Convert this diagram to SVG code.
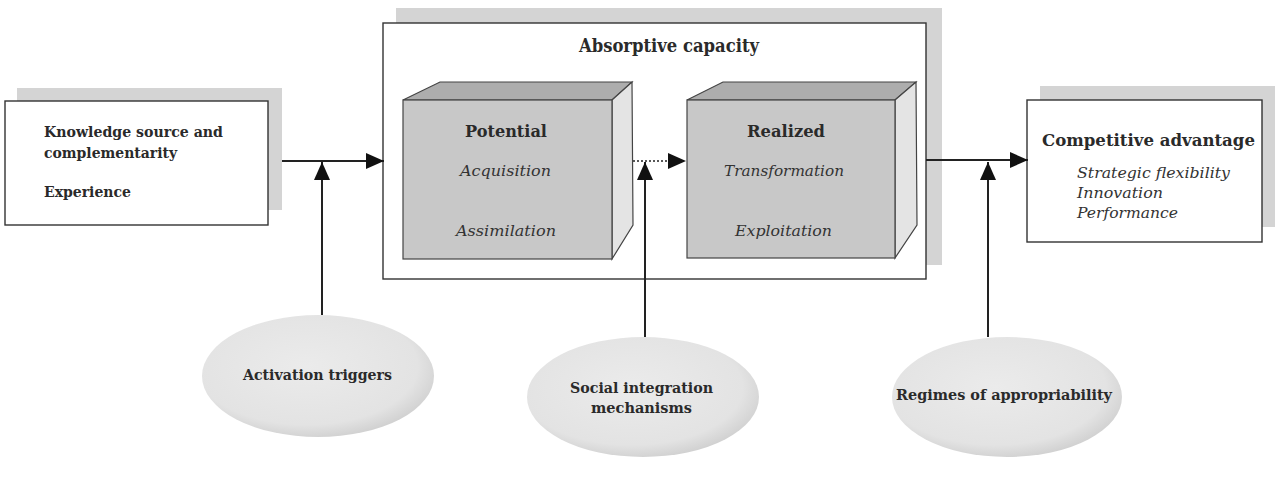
<svg xmlns="http://www.w3.org/2000/svg" width="1285" height="484" viewBox="0 0 1285 484">
<defs>
<style>
.shadow{fill:#d4d4d4;}
.box{fill:#ffffff;stroke:#333;stroke-width:1.4;}
.front{fill:#c8c8c8;stroke:#444;stroke-width:1.2;}
.top{fill:#adadad;stroke:#444;stroke-width:1.2;}
.side{fill:#e4e4e4;stroke:#444;stroke-width:1.2;}
.ell{fill:url(#eg);stroke:none;}
.lbl{font-family:"DejaVu Serif","Liberation Serif",serif;font-weight:bold;fill:#2a2a2a;}
.it{font-family:"DejaVu Serif","Liberation Serif",serif;font-style:italic;fill:#333;}
.conn{stroke:#222;stroke-width:2;fill:none;}
.dot{stroke:#222;stroke-width:1.6;fill:none;stroke-dasharray:2 2;}
</style>
<radialGradient id="eg" cx="0.45" cy="0.42" r="0.6">
<stop offset="0" stop-color="#ebebeb"/>
<stop offset="0.8" stop-color="#e3e3e3"/>
<stop offset="1" stop-color="#d0d0d0"/>
</radialGradient>
<marker id="arr" markerUnits="userSpaceOnUse" markerWidth="18" markerHeight="16" refX="18" refY="8" orient="auto">
<path d="M0,0 L18,8 L0,16 z" fill="#111"/>
</marker>
</defs>

<g id="knowledge">
<rect class="shadow" x="17" y="88" width="265" height="122"/>
<rect class="box" x="5" y="101" width="263" height="124"/>
<text class="lbl" font-size="14" x="44" y="137" textLength="179" lengthAdjust="spacingAndGlyphs">Knowledge source and</text>
<text class="lbl" font-size="14" x="44" y="158" textLength="133" lengthAdjust="spacingAndGlyphs">complementarity</text>
<text class="lbl" font-size="14" x="44" y="197" textLength="87" lengthAdjust="spacingAndGlyphs">Experience</text>
</g>

<g id="absorptive">
<rect class="shadow" x="396" y="8" width="546" height="257"/>
<rect class="box" x="383" y="23" width="543" height="256"/>
<text class="lbl" font-size="18" x="579" y="52" textLength="180" lengthAdjust="spacingAndGlyphs">Absorptive capacity</text>
</g>

<g id="potential">
<polygon class="top" points="403,100 440,82 632,82 612,100"/>
<polygon class="side" points="612,100 632,82 633,225 612,259"/>
<rect class="front" x="403" y="100" width="209" height="159"/>
<text class="lbl" font-size="17" x="465" y="137" textLength="82" lengthAdjust="spacingAndGlyphs">Potential</text>
<text class="it" font-size="15" x="460" y="176" textLength="91" lengthAdjust="spacingAndGlyphs">Acquisition</text>
<text class="it" font-size="15" x="456" y="236" textLength="100" lengthAdjust="spacingAndGlyphs">Assimilation</text>
</g>

<g id="realized">
<polygon class="top" points="687,100 723,82 916,82 895,100"/>
<polygon class="side" points="895,100 916,82 917,225 895,258"/>
<rect class="front" x="687" y="100" width="208" height="158"/>
<text class="lbl" font-size="17" x="747" y="137" textLength="78" lengthAdjust="spacingAndGlyphs">Realized</text>
<text class="it" font-size="15" x="724" y="176" textLength="120" lengthAdjust="spacingAndGlyphs">Transformation</text>
<text class="it" font-size="15" x="735" y="236" textLength="97" lengthAdjust="spacingAndGlyphs">Exploitation</text>
</g>

<g id="competitive">
<rect class="shadow" x="1040" y="86" width="235" height="141"/>
<rect class="box" x="1027" y="100" width="235" height="142"/>
<text class="lbl" font-size="17" x="1042" y="146" textLength="213" lengthAdjust="spacingAndGlyphs">Competitive advantage</text>
<text class="it" font-size="15" x="1077" y="178" textLength="153" lengthAdjust="spacingAndGlyphs">Strategic flexibility</text>
<text class="it" font-size="15" x="1077" y="198" textLength="86" lengthAdjust="spacingAndGlyphs">Innovation</text>
<text class="it" font-size="15" x="1077" y="218" textLength="101" lengthAdjust="spacingAndGlyphs">Performance</text>
</g>

<g id="activation">
<ellipse class="ell" cx="318" cy="376" rx="116" ry="61"/>
<text class="lbl" font-size="14" x="243" y="380" textLength="149" lengthAdjust="spacingAndGlyphs">Activation triggers</text>
</g>

<g id="social">
<ellipse class="ell" cx="643" cy="397" rx="116" ry="60"/>
<text class="lbl" font-size="14" x="570" y="393" textLength="143" lengthAdjust="spacingAndGlyphs">Social integration</text>
<text class="lbl" font-size="14" x="591" y="413" textLength="101" lengthAdjust="spacingAndGlyphs">mechanisms</text>
</g>

<g id="regimes">
<ellipse class="ell" cx="1007" cy="397" rx="115" ry="60"/>
<text class="lbl" font-size="14" x="896" y="400" textLength="216" lengthAdjust="spacingAndGlyphs">Regimes of appropriability</text>
</g>

<g id="connectors">
<line class="conn" x1="282" y1="161" x2="384" y2="161" marker-end="url(#arr)"/>
<line class="conn" x1="322" y1="315" x2="322" y2="162" marker-end="url(#arr)"/>
<line class="dot" x1="633" y1="161" x2="669" y2="161"/>
<path d="M668,153 L686,161 L668,169 z" fill="#111"/>
<line class="conn" x1="645" y1="337" x2="645" y2="162" marker-end="url(#arr)"/>
<line class="conn" x1="926" y1="160" x2="1028" y2="160" marker-end="url(#arr)"/>
<line class="conn" x1="988" y1="337" x2="988" y2="162" marker-end="url(#arr)"/>
</g>
</svg>
